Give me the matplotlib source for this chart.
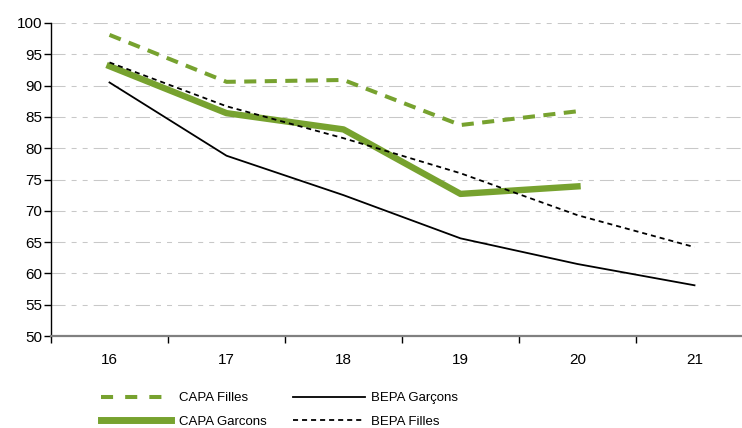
import matplotlib
matplotlib.use('Agg')
import matplotlib.pyplot as plt
from matplotlib.lines import Line2D

plt.rcParams['font.family'] = ['Liberation Sans', 'DejaVu Sans']

# ages / catégories
ages = ['16', '17', '18', '19', '20', '21']

capa_filles = [98.1, 90.6, 90.9, 83.7, 85.9]
capa_garcons = [93.1, 85.6, 83.0, 72.7, 73.9]
bepa_garcons = [90.5, 78.8, 72.5, 65.6, 61.5, 58.1]
bepa_filles = [93.7, 86.7, 81.6, 76.0, 69.3, 64.2]

GREEN = '#77a22f'

fig = plt.figure(figsize=(7.42, 4.28), dpi=100)
ax = fig.add_axes([51 / 742, 92 / 428, 702 / 742, 313 / 428])

ax.plot(range(len(capa_filles)), capa_filles, color=GREEN, lw=2.9,
        dashes=(3, 2.1), dash_capstyle='butt')
ax.plot(range(len(capa_garcons)), capa_garcons, color=GREEN, lw=4.6)
ax.plot(range(len(bepa_garcons)), bepa_garcons, color='black', lw=1.3)
ax.plot(range(len(bepa_filles)), bepa_filles, color='black', lw=1.3,
        dashes=(2.8, 2.2))

ax.set_xlim(-0.5, len(ages) - 0.5)
ax.set_ylim(50, 100)
ax.set_yticks(range(50, 101, 5))

# ticks at the bin edges, labels in the middle
ax.set_xticks([i - 0.5 for i in range(len(ages) + 1)])
ax.set_xticklabels([])
ax.set_xticks(range(len(ages)), minor=True)
ax.set_xticklabels(ages, minor=True)
ax.tick_params(axis='x', which='major', length=5, width=1, color='black')
ax.tick_params(axis='x', which='minor', length=0, pad=12, labelsize=11)
ax.tick_params(axis='y', length=5, width=1, pad=1.5, labelsize=11)

ax.yaxis.grid(True, color='#c8c8c8', lw=0.75,
              linestyle=(0, (13.5, 5.8, 4.8, 5.8, 4.8, 5.8)))
ax.set_axisbelow(True)

for side in ['top', 'right']:
    ax.spines[side].set_visible(False)
ax.spines['left'].set_color('black')
ax.spines['left'].set_linewidth(1)
ax.spines['bottom'].set_color('#808080')
ax.spines['bottom'].set_linewidth(1.6)

h1 = [Line2D([], [], color=GREEN, lw=2.9, dashes=(3, 3)),
      Line2D([], [], color=GREEN, lw=5)]
leg1 = fig.legend(h1, ['CAPA Filles', 'CAPA Garcons'], loc='upper left',
                  bbox_to_anchor=(101 / 742, 1 - 392 / 428), frameon=False,
                  fontsize=9.5, handlelength=5.3, handletextpad=0.6,
                  labelspacing=0.85, borderpad=0, borderaxespad=0)
h2 = [Line2D([], [], color='black', lw=1.3),
      Line2D([], [], color='black', lw=1.3, dashes=(2.8, 2.2))]
leg2 = fig.legend(h2, ['BEPA Garçons', 'BEPA Filles'], loc='upper left',
                  bbox_to_anchor=(293 / 742, 1 - 392 / 428), frameon=False,
                  fontsize=9.5, handlelength=5.45, handletextpad=0.45,
                  labelspacing=0.85, borderpad=0, borderaxespad=0)

fig.savefig('out.png', dpi=100)
